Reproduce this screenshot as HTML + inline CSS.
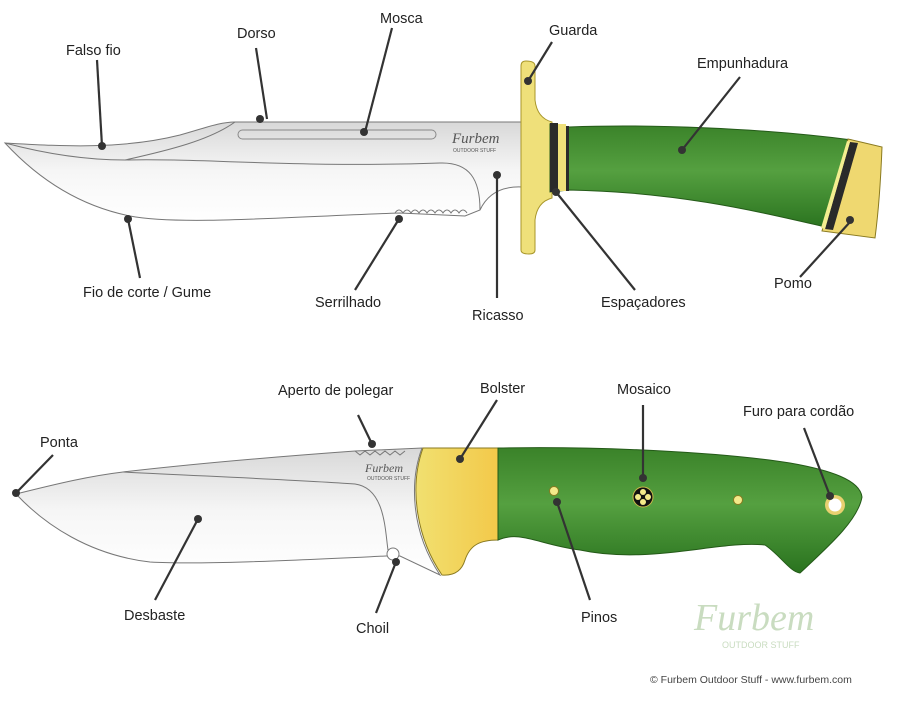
<!DOCTYPE html>
<html><head><meta charset="utf-8"><style>
html,body{margin:0;padding:0;background:#fff;width:900px;height:703px;overflow:hidden}
svg text{font-family:"Liberation Sans",sans-serif;font-size:14.5px;fill:#222}
</style></head><body>
<svg width="900" height="703" viewBox="0 0 900 703" xmlns="http://www.w3.org/2000/svg">
<defs>
<linearGradient id="bl" x1="0" y1="0" x2="0" y2="1"><stop offset="0" stop-color="#d8d8d8"/><stop offset="0.5" stop-color="#f6f6f6"/><stop offset="1" stop-color="#fff"/></linearGradient>
<linearGradient id="gr" x1="0" y1="0" x2="0" y2="1"><stop offset="0" stop-color="#3a8229"/><stop offset="0.45" stop-color="#55a040"/><stop offset="1" stop-color="#2a731f"/></linearGradient>
<linearGradient id="yl" x1="0" y1="0" x2="1" y2="0"><stop offset="0" stop-color="#f1e070"/><stop offset="1" stop-color="#f3c94a"/></linearGradient>
</defs>
<!-- TOP KNIFE -->
<path d="M5,143 C60,146 120,150 180,135 C205,128 220,122 235,122 L522,122 L522,187 C500,186 487,195 480,210 L465,216 L400,213 C300,216 180,226 130,216 C70,204 30,170 5,143 Z" fill="url(#bl)" stroke="#777" stroke-width="1"/>
<path d="M5,143 C50,155 90,160 125,160 C200,158 300,168 440,163 C470,162 480,180 480,210" fill="none" stroke="#777" stroke-width="1"/>
<path d="M125,160 C170,150 210,140 235,122" fill="none" stroke="#777" stroke-width="1"/>
<rect x="238" y="130" width="198" height="9" rx="4.5" fill="none" stroke="#888" stroke-width="1"/>
<path d="M395,213 q4,-6 8,0 q4,-6 8,0 q4,-6 8,0 q4,-6 8,0 q4,-6 8,0 q4,-6 8,0 q4,-6 8,0 q4,-6 8,0 q4,-6 8,0" fill="none" stroke="#777"/>
<text x="452" y="143" style="font-size:15px;font-style:italic;font-family:'Liberation Serif',serif;fill:#555">Furbem</text>
<text x="453" y="152" style="font-size:5px;fill:#555">OUTDOOR STUFF</text>
<!-- guard -->
<path d="M521,66 Q521,61 526,61 Q535,61 535,66 L535,100 Q537,118 552,122 L552,198 Q537,202 535,220 L535,250 Q535,254 529,254 Q521,254 521,250 Z" fill="#efe07a" stroke="#a8962a" stroke-width="1"/>
<path d="M550,124 L569,127 C650,124 760,128 852,140 L830,228 C760,212 680,192 569,190 L550,192 Z" fill="url(#gr)" stroke="#245a18" stroke-width="1"/>
<rect x="550" y="123" width="8" height="69" fill="#2a2a2a"/>
<rect x="558" y="124" width="8" height="67" fill="#efe07a"/>
<rect x="566" y="126" width="3" height="65" fill="#2a2a2a"/>
<path d="M848,139 L882,147 Q880,200 875,238 L822,231 Z" fill="#efd870" stroke="#8a7a20"/>
<path d="M850,142 L858,143 L833,230 L825,229 Z" fill="#2a2a2a"/>
<path d="M847,141 L850,142 L825,229 L821,228 Z" fill="#f3ee90"/>
<!-- BOTTOM KNIFE -->
<path d="M16,494 C60,483 90,476 123,472 C200,463 300,455 355,451 L422,448 C410,480 410,530 440,575 L400,556 L386,556 C300,560 200,565 150,562 C90,555 45,525 16,494 Z" fill="url(#bl)" stroke="#777"/>
<path d="M123,472 C200,476 300,480 355,484 C385,488 385,530 388,550" fill="none" stroke="#777"/>
<circle cx="393" cy="554" r="6" fill="#fff" stroke="#777"/>
<path d="M355,451 l5,4 5,-4 5,4 5,-4 5,4 5,-4 5,4 5,-4 5,4 5,-4" fill="none" stroke="#777"/>
<text x="365" y="472" style="font-size:12px;font-style:italic;font-family:'Liberation Serif',serif;fill:#555">Furbem</text>
<text x="367" y="480" style="font-size:5px;fill:#555">OUTDOOR STUFF</text>
<path d="M423,448 L498,448 L498,540 C480,540 470,545 465,560 C462,570 455,576 442,575 C418,540 408,490 423,448 Z" fill="url(#yl)" stroke="#8a7a20"/>
<path d="M498,448 C600,446 720,452 790,463 C830,470 860,480 862,497 C858,520 830,545 800,573 C790,572 780,555 765,545 C720,540 650,565 580,550 C540,545 520,530 498,540 Z" fill="url(#gr)" stroke="#245a18"/>
<circle cx="554" cy="491" r="4.5" fill="#f3ea8a" stroke="#8a7a20"/>
<circle cx="738" cy="500" r="4.5" fill="#f3ea8a" stroke="#8a7a20"/>
<circle cx="643" cy="497" r="10" fill="#111" stroke="#c8b84a"/>
<circle cx="643" cy="492" r="3" fill="#f3ea8a"/><circle cx="643" cy="502" r="3" fill="#f3ea8a"/>
<circle cx="638" cy="497" r="3" fill="#f3ea8a"/><circle cx="648" cy="497" r="3" fill="#f3ea8a"/>
<circle cx="835" cy="505" r="10" fill="#e8d070"/><circle cx="835" cy="505" r="6.5" fill="#fff"/>
<!-- leaders -->
<g stroke="#333" stroke-width="2.2" fill="none">
<line x1="97" y1="60" x2="102" y2="146"/><line x1="256" y1="48" x2="267" y2="119"/>
<line x1="392" y1="28" x2="365" y2="132"/><line x1="552" y1="42" x2="528" y2="81"/>
<line x1="740" y1="77" x2="682" y2="150"/><line x1="128" y1="219" x2="140" y2="278"/>
<line x1="399" y1="219" x2="355" y2="290"/><line x1="497" y1="177" x2="497" y2="298"/>
<line x1="556" y1="192" x2="635" y2="290"/><line x1="850" y1="222" x2="800" y2="277"/>
<line x1="53" y1="455" x2="16" y2="493"/><line x1="198" y1="519" x2="155" y2="600"/>
<line x1="396" y1="562" x2="376" y2="613"/><line x1="358" y1="415" x2="372" y2="444"/>
<line x1="497" y1="400" x2="460" y2="459"/><line x1="643" y1="405" x2="643" y2="478"/>
<line x1="804" y1="428" x2="830" y2="496"/><line x1="557" y1="502" x2="590" y2="600"/>
</g>
<g fill="#333">
<circle cx="102" cy="146" r="4"/><circle cx="260" cy="119" r="4"/><circle cx="364" cy="132" r="4"/>
<circle cx="528" cy="81" r="4"/><circle cx="682" cy="150" r="4"/><circle cx="128" cy="219" r="4"/>
<circle cx="399" cy="219" r="4"/><circle cx="497" cy="175" r="4"/><circle cx="556" cy="192" r="4"/>
<circle cx="850" cy="220" r="4"/><circle cx="16" cy="493" r="4"/><circle cx="198" cy="519" r="4"/>
<circle cx="396" cy="562" r="4"/><circle cx="372" cy="444" r="4"/><circle cx="460" cy="459" r="4"/>
<circle cx="643" cy="478" r="4"/><circle cx="830" cy="496" r="4"/><circle cx="557" cy="502" r="4"/>
</g>
<!-- labels -->
<text x="66" y="55">Falso fio</text><text x="237" y="38">Dorso</text><text x="380" y="23">Mosca</text>
<text x="549" y="35">Guarda</text><text x="697" y="68">Empunhadura</text>
<text x="83" y="297">Fio de corte / Gume</text><text x="315" y="307">Serrilhado</text>
<text x="472" y="320">Ricasso</text><text x="601" y="307">Espaçadores</text><text x="774" y="288">Pomo</text>
<text x="278" y="395">Aperto de polegar</text><text x="480" y="393">Bolster</text>
<text x="617" y="394">Mosaico</text><text x="743" y="416">Furo para cordão</text>
<text x="40" y="447">Ponta</text><text x="124" y="620">Desbaste</text><text x="356" y="633">Choil</text>
<text x="581" y="622">Pinos</text>
<text x="694" y="630" style="font-size:38px;font-style:italic;font-family:'Liberation Serif',serif;fill:#c9dcc0">Furbem</text>
<text x="722" y="648" style="font-size:9px;fill:#c9dcc0">OUTDOOR STUFF</text>
<text x="650" y="683" style="font-size:10.5px;fill:#444">© Furbem Outdoor Stuff - www.furbem.com</text>
</svg>
</body></html>
